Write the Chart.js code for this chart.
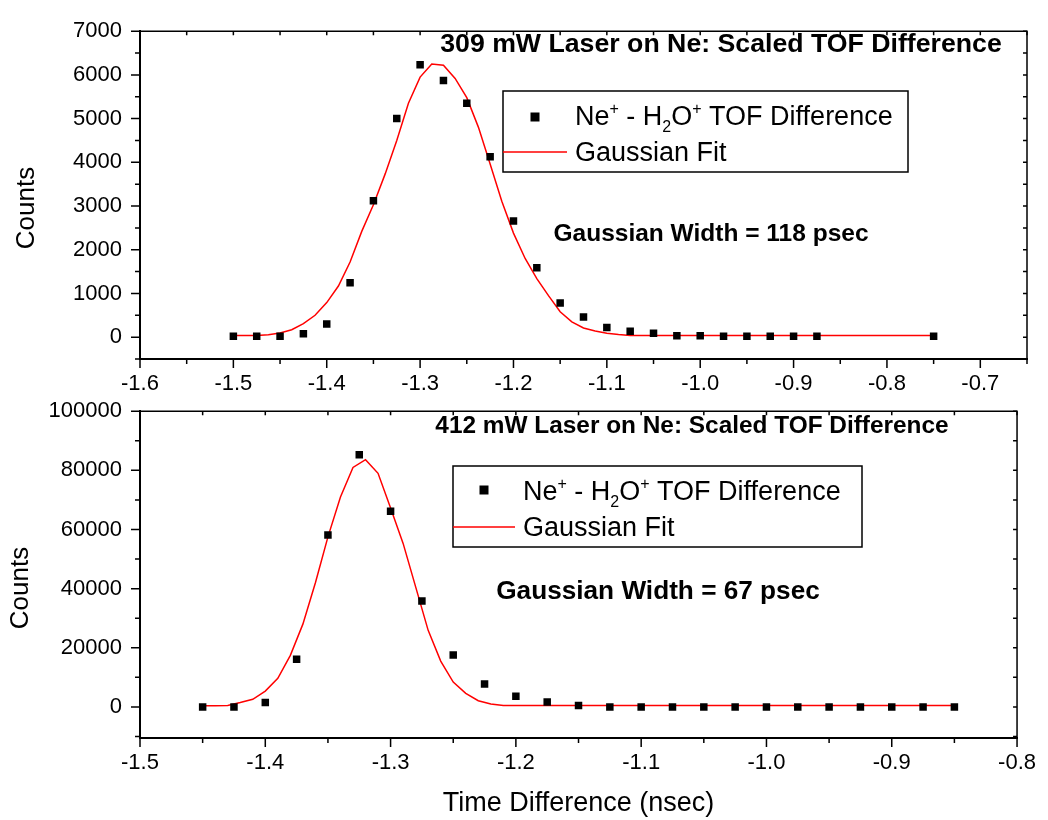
<!DOCTYPE html>
<html>
<head>
<meta charset="utf-8">
<title>Scaled TOF Difference</title>
<script src="https://cdn.jsdelivr.net/npm/chart.js@4.4.1/dist/chart.umd.min.js"></script>
<style>
  html, body { margin: 0; padding: 0; background: #fff; }
  #wrap { position: relative; width: 1048px; height: 820px; }
  canvas { position: absolute; left: 0; }
  #grafico1 { top: 0; }
  #grafico2 { top: 380px; }
</style>
</head>
<body>
<div id="wrap">
  <canvas id="grafico1" width="1048" height="420"></canvas>
  <canvas id="grafico2" width="1048" height="440"></canvas>
</div>
<script>
// Dados do gráfico de cima (309 mW)
const topTime = [-1.5, -1.475, -1.45, -1.425, -1.4, -1.375, -1.35, -1.325, -1.3, -1.275, -1.25, -1.225, -1.2, -1.175,
  -1.15, -1.125, -1.1, -1.075, -1.05, -1.025, -1.0, -0.975, -0.95, -0.925, -0.9, -0.875, -0.75];
const topCounts = [20, 20, 20, 75, 300, 1245, 3120, 5000, 6230, 5870, 5350, 4130, 2660, 1590,
  780, 460, 220, 135, 90, 30, 30, 20, 20, 20, 20, 20, 20];
const topFitTime = [-1.5, -1.4875, -1.475, -1.4625, -1.45, -1.4375, -1.425, -1.4125, -1.4, -1.3875, -1.375, -1.3625,
  -1.35, -1.3375, -1.325, -1.3125, -1.3, -1.2875, -1.275, -1.2625, -1.25, -1.2375, -1.225, -1.2125, -1.2, -1.1875,
  -1.175, -1.1625, -1.15, -1.1375, -1.125, -1.1125, -1.1, -1.0875, -1.075, -0.75];
const topFitCounts = [35, 35, 40, 55, 95, 170, 310, 500, 790, 1170, 1720, 2420,
  3030, 3730, 4500, 5350, 5950, 6250, 6220, 5920, 5480, 4800, 3960, 3110, 2380, 1800,
  1340, 950, 580, 350, 210, 140, 90, 60, 40, 35];
const topXTicks = [-1.6, -1.5, -1.4, -1.3, -1.2, -1.1, -1.0, -0.9, -0.8, -0.7];
const topYTicks = [0, 1000, 2000, 3000, 4000, 5000, 6000, 7000];

// Dados do gráfico de baixo (412 mW)
const bottomTime = [-1.45, -1.425, -1.4, -1.375, -1.35, -1.325, -1.3, -1.275, -1.25, -1.225, -1.2, -1.175, -1.15,
  -1.125, -1.1, -1.075, -1.05, -1.025, -1.0, -0.975, -0.95, -0.925, -0.9, -0.875, -0.85];
const bottomCounts = [0, 0, 1500, 16150, 58100, 85300, 66200, 35800, 17560, 7750, 3600, 1640, 450,
  0, 0, 0, 0, 0, 0, 0, 0, 0, 0, 0, 0];
const bottomFitTime = [-1.45, -1.44, -1.43, -1.42, -1.41, -1.40, -1.39, -1.38, -1.37, -1.36, -1.35, -1.34, -1.33,
  -1.32, -1.31, -1.30, -1.29, -1.28, -1.27, -1.26, -1.25, -1.24, -1.23, -1.22, -1.21, -1.20, -0.85];
const bottomFitCounts = [400, 400, 500, 1500, 2600, 5350, 9700, 17450, 28000, 42000, 57500, 71000, 81000,
  83600, 79000, 67300, 55300, 40600, 25900, 15500, 8400, 4600, 2100, 1000, 500, 450, 500];
const bottomXTicks = [-1.5, -1.4, -1.3, -1.2, -1.1, -1.0, -0.9, -0.8];
const bottomYTicks = [0, 20000, 40000, 60000, 80000, 100000];

const FONT = '"Liberation Sans", Arial, Helvetica, sans-serif';
Chart.defaults.font.family = FONT;
Chart.defaults.color = '#000';

function pts(xs, ys) {
  return xs.map((x, i) => ({ x: x, y: ys[i] }));
}

// moldura de cima/direita e marcas (maiores e menores)
function framePlugin(p) {
  return {
    id: 'frame',
    afterDraw(chart) {
      const { ctx, chartArea: a, scales: { x, y } } = chart;
      ctx.save();
      ctx.strokeStyle = '#000';
      ctx.lineWidth = 1.5;
      ctx.beginPath();
      ctx.moveTo(a.left, a.top);
      ctx.lineTo(a.right, a.top);
      ctx.lineTo(a.right, a.bottom);
      ctx.stroke();

      ctx.beginPath();
      const kx0 = Math.ceil(x.min / p.xMinor - 1e-6), kx1 = Math.floor(x.max / p.xMinor + 1e-6);
      for (let k = kx0; k <= kx1; k++) {
        const v = k * p.xMinor;
        const major = Math.abs(v / p.xMajor - Math.round(v / p.xMajor)) < 1e-6;
        const px = x.getPixelForValue(v);
        ctx.moveTo(px, a.bottom);
        ctx.lineTo(px, a.bottom + (major ? 9 : 5));
        ctx.moveTo(px, a.top);
        ctx.lineTo(px, a.top + 4);
      }
      const ky0 = Math.ceil(y.min / p.yMinor - 1e-6), ky1 = Math.floor(y.max / p.yMinor + 1e-6);
      for (let k = ky0; k <= ky1; k++) {
        const v = k * p.yMinor;
        const major = Math.abs(v / p.yMajor - Math.round(v / p.yMajor)) < 1e-6;
        const py = y.getPixelForValue(v);
        ctx.moveTo(a.left, py);
        ctx.lineTo(a.left - (major ? 9 : 5), py);
        ctx.moveTo(a.right, py);
        ctx.lineTo(a.right - 4, py);
      }
      ctx.stroke();
      ctx.restore();
    }
  };
}

// títulos, legenda e rótulo "Counts"
function textPlugin(p) {
  return {
    id: 'notes',
    afterDraw(chart) {
      const ctx = chart.ctx;
      ctx.save();
      ctx.translate(0, -p.offsetY);
      ctx.fillStyle = '#000';
      ctx.textBaseline = 'alphabetic';
      ctx.textAlign = 'center';

      ctx.font = 'bold ' + p.title.size + 'px ' + FONT;
      ctx.fillText(p.title.text, p.title.x, p.title.y);
      ctx.font = 'bold ' + p.width.size + 'px ' + FONT;
      ctx.fillText(p.width.text, p.width.x, p.width.y);

      // Counts
      ctx.save();
      ctx.translate(p.countsLabel.x, p.countsLabel.y);
      ctx.rotate(-Math.PI / 2);
      ctx.textBaseline = 'middle';
      ctx.font = '26px ' + FONT;
      ctx.fillText('Counts', 0, 0);
      ctx.restore();

      // legenda
      const L = p.legend;
      ctx.lineWidth = 1.5;
      ctx.strokeStyle = '#000';
      ctx.strokeRect(L.x, L.y, L.w, L.h);
      ctx.fillRect(L.mx - 4.5, L.my - 4.5, 9, 9);
      ctx.strokeStyle = '#ff0000';
      ctx.beginPath();
      ctx.moveTo(L.x, L.ly);
      ctx.lineTo(L.lx, L.ly);
      ctx.stroke();

      ctx.textAlign = 'left';
      const parts = [['Ne', 0], ['+', 1], [' - H', 0], ['2', -1], ['O', 0], ['+', 1], [' TOF Difference', 0]];
      let tx = L.tx;
      parts.forEach(([s, k]) => {
        ctx.font = (k ? '16px ' : '27px ') + FONT;
        const dy = k === 1 ? -11 : (k === -1 ? 7 : 0);
        ctx.fillText(s, tx, L.b1 + dy);
        tx += ctx.measureText(s).width;
      });
      ctx.font = '27px ' + FONT;
      ctx.fillText('Gaussian Fit', L.tx, L.b2);
      ctx.restore();
    }
  };
}

function makeChart(id, p) {
  return new Chart(document.getElementById(id), {
    type: 'scatter',
    data: {
      datasets: [{
        label: 'Ne+ - H2O+ TOF Difference',
        data: pts(p.time, p.counts),
        showLine: false,
        pointStyle: 'rect',
        pointRadius: 5.3,
        backgroundColor: '#000',
        borderColor: '#000',
        borderWidth: 0
      }, {
        label: 'Gaussian Fit',
        data: pts(p.fitTime, p.fitCounts),
        showLine: true,
        borderColor: '#ff0000',
        borderWidth: 1.5,
        pointRadius: 0,
        fill: false,
        tension: 0
      }]
    },
    options: {
      responsive: false,
      animation: false,
      devicePixelRatio: 1,
      events: [],
      layout: { padding: { top: p.padTop, right: 21, left: 0, bottom: 0 } },
      plugins: { legend: { display: false }, tooltip: { enabled: false } },
      scales: {
        x: {
          type: 'linear',
          min: p.xMin,
          max: p.xMax,
          afterBuildTicks: s => { s.ticks = p.xTicks.map(v => ({ value: v })); },
          afterFit: s => { s.height = p.xHeight; },
          ticks: { font: { size: 22 }, padding: 12, maxRotation: 0, autoSkip: false, callback: v => v.toFixed(1) },
          grid: { display: false, drawTicks: false },
          border: { display: true, color: '#000', width: 2 },
          title: { display: p.xTitle, text: 'Time Difference (nsec)', font: { size: 27 }, padding: 0 }
        },
        y: {
          type: 'linear',
          min: p.yMin,
          max: p.yMax,
          afterBuildTicks: s => { s.ticks = p.yTicks.map(v => ({ value: v })); },
          afterFit: s => { s.width = 140; },
          ticks: { font: { size: 22 }, padding: 18, autoSkip: false, callback: v => String(v) },
          grid: { display: false, drawTicks: false },
          border: { display: true, color: '#000', width: 2 }
        }
      }
    },
    plugins: [framePlugin(p), textPlugin(p)]
  });
}

// Gráfico de cima
makeChart('grafico1', {
  time: topTime, counts: topCounts, fitTime: topFitTime, fitCounts: topFitCounts,
  xTicks: topXTicks, yTicks: topYTicks,
  xMin: -1.6, xMax: -0.65, yMin: -500, yMax: 7000,
  xMajor: 0.1, xMinor: 0.05, yMajor: 1000, yMinor: 500,
  padTop: 21, xHeight: 61, xTitle: false, offsetY: 0,
  title: { text: '309 mW Laser on Ne: Scaled TOF Difference', size: 26.7, x: 721, y: 52 },
  width: { text: 'Gaussian Width = 118 psec', size: 24.5, x: 711, y: 241 },
  countsLabel: { x: 27, y: 208 },
  legend: { x: 503, y: 91, w: 405, h: 81, mx: 535, my: 117, lx: 567, ly: 152, tx: 575, b1: 125, b2: 161 }
});

// Gráfico de baixo
makeChart('grafico2', {
  time: bottomTime, counts: bottomCounts, fitTime: bottomFitTime, fitCounts: bottomFitCounts,
  xTicks: bottomXTicks, yTicks: bottomYTicks,
  xMin: -1.5, xMax: -0.8, yMin: -10500, yMax: 100000,
  xMajor: 0.1, xMinor: 0.05, yMajor: 20000, yMinor: 10000,
  padTop: 20, xHeight: 82, xTitle: true, offsetY: 380,
  title: { text: '412 mW Laser on Ne: Scaled TOF Difference', size: 24.4, x: 692, y: 433 },
  width: { text: 'Gaussian Width = 67 psec', size: 26.2, x: 658, y: 599 },
  countsLabel: { x: 21, y: 588 },
  legend: { x: 453, y: 466, w: 409, h: 81, mx: 484, my: 490, lx: 515, ly: 527, tx: 523, b1: 500, b2: 536 }
});
</script>
</body>
</html>
